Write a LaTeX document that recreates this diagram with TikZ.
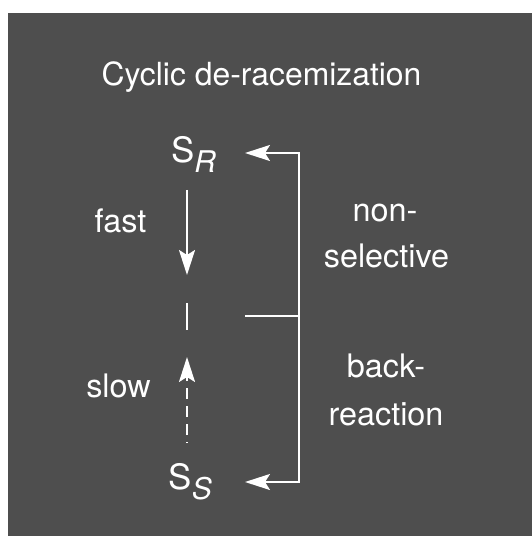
\documentclass[tikz,border=0pt]{standalone}
\usepackage{fontspec}
\setmainfont{TeX Gyre Heros}
\usetikzlibrary{arrows.meta}
\definecolor{panel}{HTML}{4E4E4E}
\tikzset{
  lbl/.style={text=white, inner sep=0pt, anchor=base, font=\fontsize{32.5}{34}\selectfont},
  species/.style={text=white, inner sep=0pt, anchor=base west, font=\fontsize{35}{36}\selectfont},
  wline/.style={draw=white, line width=2bp, line cap=butt, line join=miter},
  wtip/.style={-{Stealth[length=25bp, width=16bp, inset=5bp]}}
}
\newcommand{\subsc}[1]{\raisebox{-10bp}{\fontsize{30}{30}\selectfont\itshape #1}}
\begin{document}
\begin{tikzpicture}[x=1bp, y=-1bp]
  \useasboundingbox (0,0) rectangle (532,536);
  \fill[panel] (8,13) rectangle (532,536);

  % title
  \node[lbl, font=\fontsize{32}{34}\selectfont] (title) at (261.5,86) {Cyclic de-racemization};

  % the two enantiomers
  \node[species] (sr) at (171,163) {S\subsc{R}};
  \node[species] (ss) at (168.5,489) {S\subsc{S}};

  % rate labels
  \node[lbl] (fast) at (120.5,232) {fast};
  \node[lbl] (slow) at (118.5,397) {slow};

  % back-reaction labels
  \node[lbl] (non) at (385,221) {non-};
  \node[lbl] (sel) at (386.5,267) {selective};
  \node[lbl] (back) at (386,377) {back-};
  \node[lbl] (reac) at (386,425) {reaction};

  % vertical reaction axis
  \coordinate (fastA) at (187,190);
  \coordinate (fastB) at (187,275);
  \coordinate (tsTop) at (187,303);
  \coordinate (tsBot) at (187,330);
  \coordinate (slowA) at (187,443);
  \coordinate (slowB) at (187,357);

  \draw[wline, wtip] (fastA) -- (fastB);
  \draw[wline] (tsTop) -- (tsBot);
  \draw[wline, wtip, dash pattern=on 11bp off 7bp, dash phase=10bp] (slowA) -- (slowB);

  % return bracket
  \coordinate (brMid) at (299,316);
  \coordinate (midL) at (245,316);
  \coordinate (tipR) at (245,153);
  \coordinate (tipS) at (245,482);

  \draw[wline] (midL) -- (brMid);
  \draw[wline, wtip] (brMid) |- (tipR);
  \draw[wline, wtip] (brMid) |- (tipS);
\end{tikzpicture}
\end{document}
